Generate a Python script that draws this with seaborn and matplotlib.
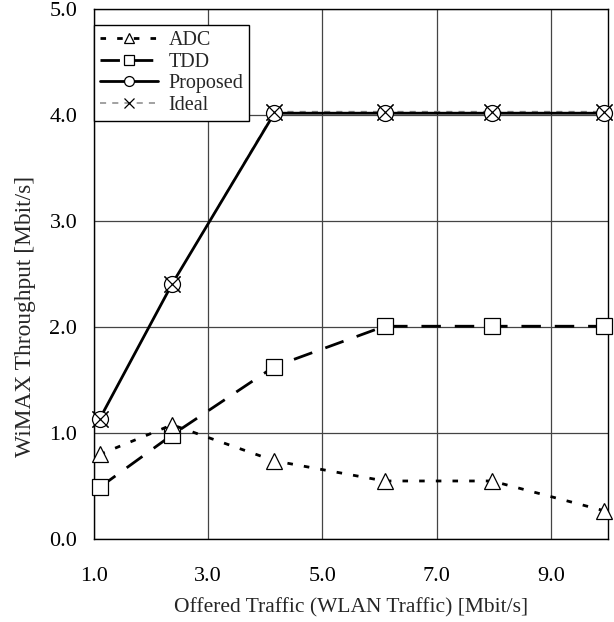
import numpy as np
import pandas as pd
import matplotlib
matplotlib.use("Agg")
import matplotlib.pyplot as plt
from matplotlib.ticker import MultipleLocator, FixedLocator
import seaborn as sns

# ---- data ----
x_vals = [1.1, 2.37, 4.16, 6.09, 7.97, 9.93]
adc = [0.80, 1.08, 0.74, 0.55, 0.55, 0.27]
tdd = [0.49, 0.985, 1.63, 2.01, 2.01, 2.01]
proposed = [1.135, 2.41, 4.02, 4.02, 4.02, 4.02]
ideal = [1.135, 2.41, 4.035, 4.035, 4.035, 4.035]

x_major = [1.0, 3.0, 5.0, 7.0, 9.0]
y_major = [0.0, 1.0, 2.0, 3.0, 4.0, 5.0]
x_label = "Offered Traffic (WLAN Traffic) [Mbit/s]"
y_label = "WiMAX Throughput [Mbit/s]"

sns.set_style("white")
plt.rcParams['font.family'] = ['Liberation Serif', 'DejaVu Serif']

fig = plt.figure(figsize=(6.14, 6.22), dpi=100)
ax = fig.add_axes([0.153, 0.133, 0.837, 0.852])

ms = 11.5
common = dict(color='black', markerfacecolor='white', markeredgecolor='black',
              markersize=ms, markeredgewidth=0.9, clip_on=False)

# Ideal line (below the proposed line)
sns.lineplot(x=x_vals, y=ideal, ax=ax, label="Ideal", marker='x',
             color='#888888', linewidth=1.1, linestyle=(0, (4, 4)),
             markersize=ms, markeredgecolor='black', markeredgewidth=0.9,
             clip_on=False, zorder=3)
sns.lineplot(x=x_vals, y=proposed, ax=ax, label="Proposed", marker='o',
             linewidth=2.0, linestyle='-', zorder=4, **common)
# Ideal markers on top of the circles
sns.lineplot(x=x_vals, y=ideal, ax=ax, marker='x', linestyle='none',
             color='black', markersize=ms, markeredgecolor='black',
             markeredgewidth=0.9, clip_on=False, zorder=5, legend=False)
sns.lineplot(x=x_vals, y=tdd, ax=ax, label="TDD", marker='s',
             linewidth=2.0, linestyle=(0, (7, 5)), zorder=4, **common)
sns.lineplot(x=x_vals, y=adc, ax=ax, label="ADC", marker='^',
             linewidth=2.0, linestyle=(0, (2.0, 4.0)), zorder=4, **common)

ax.set_xlim(1.0, 10.0)
ax.set_ylim(0.0, 5.0)

ax.xaxis.set_major_locator(FixedLocator(x_major))
ax.yaxis.set_major_locator(FixedLocator(y_major))
ax.set_xticklabels([f"{v:.1f}" for v in x_major])
ax.set_yticklabels([f"{v:.1f}" for v in y_major])
ax.xaxis.set_minor_locator(FixedLocator(list(np.arange(1.0, 10.01, 0.4))))
ax.yaxis.set_minor_locator(MultipleLocator(0.5))

ax.tick_params(axis='both', which='major', direction='in', length=0,
               labelsize=16, pad=12, colors='black')
ax.tick_params(axis='both', which='minor', direction='in', length=5,
               width=0.8, colors='black')
ax.tick_params(axis='x', which='major', pad=20)

ax.grid(True, which='major', color='#444444', linewidth=0.9)
ax.set_axisbelow(True)
for s in ax.spines.values():
    s.set_visible(True)
    s.set_color('black')
    s.set_linewidth(1.0)

ax.set_xlabel(x_label, fontsize=15.5, labelpad=9)
ax.set_ylabel(y_label, fontsize=16.8)
ax.yaxis.set_label_coords(-0.113, 0.42)

handles, labels = ax.get_legend_handles_labels()
order = [labels.index(n) for n in ["ADC", "TDD", "Proposed", "Ideal"]]
leg = ax.legend([handles[i] for i in order], [labels[i] for i in order],
                loc='upper left', bbox_to_anchor=(0.0, 1.0 - 16 / 530),
                fontsize=14.5, markerscale=0.62,
                frameon=True, fancybox=False, edgecolor='black',
                framealpha=1.0, handlelength=2.9, handletextpad=0.5,
                borderpad=0.3, labelspacing=0.12, borderaxespad=0.0)
leg.get_frame().set_linewidth(1.0)
leg.set_zorder(10)

fig.savefig("out.png", dpi=100)
